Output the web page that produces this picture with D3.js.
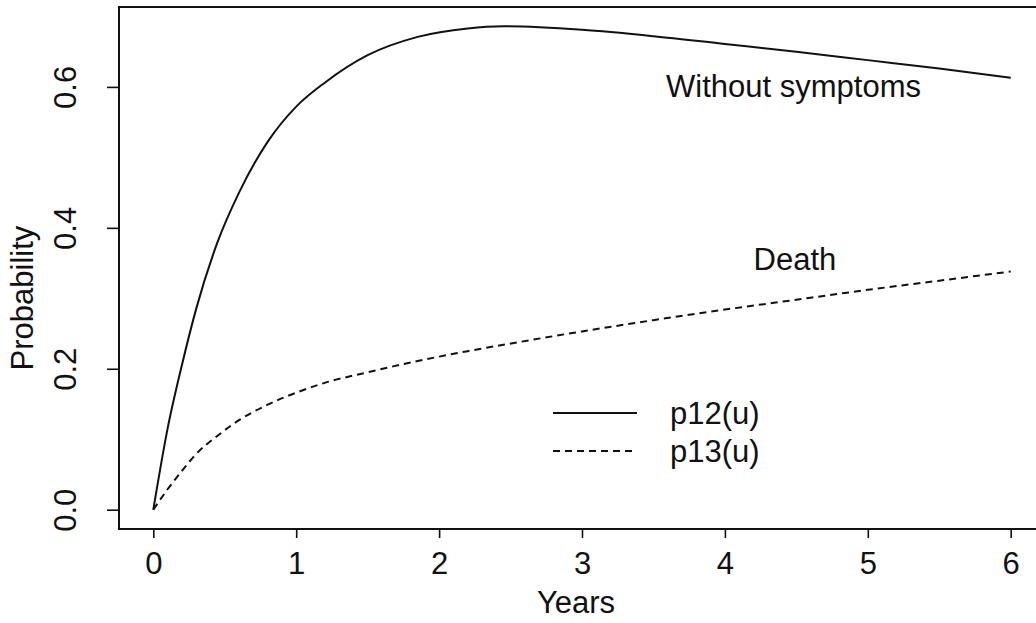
<!DOCTYPE html>
<html>
<head>
<meta charset="utf-8">
<script src="https://cdn.jsdelivr.net/npm/d3@7"></script>
<style>
  body { margin: 0; background: #fff; }
  text { font-family: "Liberation Sans", Arial, Helvetica, sans-serif; fill: #111; }
</style>
</head>
<body>
<svg id="chart" width="1036" height="623"></svg>
<script>
var font = "31px 'Liberation Sans', Arial, sans-serif";

// values
var years = [0, 0.1, 0.2, 0.3, 0.45, 0.6, 0.8, 1.0, 1.2, 1.5, 1.85, 2.2, 2.45, 3.0, 3.5, 4.0, 4.5, 5.0, 5.5, 6.0];
var p12 = [0, 0.115, 0.205, 0.285, 0.38, 0.45, 0.522, 0.572, 0.606, 0.645, 0.671, 0.683, 0.686, 0.681, 0.672, 0.661, 0.65, 0.638, 0.626, 0.613];
var p13 = [0, 0.029, 0.055, 0.079, 0.105, 0.127, 0.149, 0.166, 0.18, 0.195, 0.211, 0.225, 0.234, 0.253, 0.269, 0.284, 0.298, 0.312, 0.325, 0.338];
var xTicks = [0, 1, 2, 3, 4, 5, 6];
var yTicks = [0, 0.2, 0.4, 0.6];
var seriesNames = ["p12(u)", "p13(u)"];
var curveLabels = [
  {text: "Without symptoms", x: 4.48, y: 0.585},
  {text: "Death", x: 4.49, y: 0.34}
];

var svg = d3.select("#chart");

// R style: axis range padded by 4%
var x = d3.scaleLinear().domain([-0.24, 6.24]).range([119, 1045]);
var y = d3.scaleLinear().domain([-0.0274, 0.7134]).range([529, 7]);

drawFrame();
drawAxes();
drawCurves();
drawLabels();
drawLegend();

function drawFrame() {
  svg.append("rect")
    .attr("x", x.range()[0])
    .attr("y", y.range()[1])
    .attr("width", x.range()[1] - x.range()[0])
    .attr("height", y.range()[0] - y.range()[1])
    .attr("fill", "none")
    .attr("stroke", "#111")
    .attr("stroke-width", 2);
}

function drawAxes() {
  var xAxis = d3.axisBottom(x).tickValues(xTicks).tickSize(9).tickPadding(14)
    .tickFormat(d3.format("d"));
  var gx = svg.append("g").attr("transform", "translate(0," + y.range()[0] + ")").call(xAxis);
  gx.select(".domain").remove();
  gx.selectAll("line").attr("stroke", "#111").attr("stroke-width", 1.6);
  gx.selectAll("text").style("font", font).attr("fill", "#111");

  var yAxis = d3.axisLeft(y).tickValues(yTicks).tickSize(12).tickFormat(d3.format(".1f"));
  var gy = svg.append("g").attr("transform", "translate(" + x.range()[0] + ",0)").call(yAxis);
  gy.select(".domain").remove();
  gy.selectAll("line").attr("stroke", "#111").attr("stroke-width", 1.6);
  // rotated tick labels, as R draws them
  gy.selectAll("text")
    .style("font", font)
    .attr("fill", "#111")
    .attr("x", null).attr("dy", null)
    .attr("text-anchor", "middle")
    .attr("transform", "translate(-43,0) rotate(-90)");

  svg.append("text")
    .attr("x", 576)
    .attr("y", 613)
    .attr("text-anchor", "middle")
    .style("font", font)
    .text("Years");

  svg.append("text")
    .attr("transform", "translate(33,298) rotate(-90)")
    .attr("text-anchor", "middle")
    .style("font", font)
    .text("Probability");
}

function drawCurves() {
  var line = d3.line()
    .x(function(d) { return x(d[0]); })
    .y(function(d) { return y(d[1]); })
    .curve(d3.curveMonotoneX);

  svg.append("path")
    .datum(d3.zip(years, p12))
    .attr("d", line)
    .attr("fill", "none")
    .attr("stroke", "#111")
    .attr("stroke-width", 2);

  svg.append("path")
    .datum(d3.zip(years, p13))
    .attr("d", line)
    .attr("fill", "none")
    .attr("stroke", "#111")
    .attr("stroke-width", 2)
    .attr("stroke-dasharray", "7,5");
}

function drawLabels() {
  svg.selectAll("text.curve-label")
    .data(curveLabels)
    .enter().append("text")
    .attr("class", "curve-label")
    .attr("x", function(d) { return x(d.x); })
    .attr("y", function(d) { return y(d.y); })
    .attr("text-anchor", "middle")
    .style("font", font)
    .text(function(d) { return d.text; });
}

function drawLegend() {
  var g = svg.append("g").attr("transform", "translate(553,413)");
  var items = g.selectAll("g")
    .data(seriesNames)
    .enter().append("g")
    .attr("transform", function(d, i) { return "translate(0," + (i * 38) + ")"; });

  items.append("line")
    .attr("x1", 0).attr("x2", 84)
    .attr("stroke", "#111")
    .attr("stroke-width", 2)
    .attr("stroke-dasharray", function(d, i) { return i == 0 ? null : "7,5"; });

  items.append("text")
    .attr("x", 117)
    .attr("y", 11)
    .style("font", font)
    .text(function(d) { return d; });
}
</script>
</body>
</html>
